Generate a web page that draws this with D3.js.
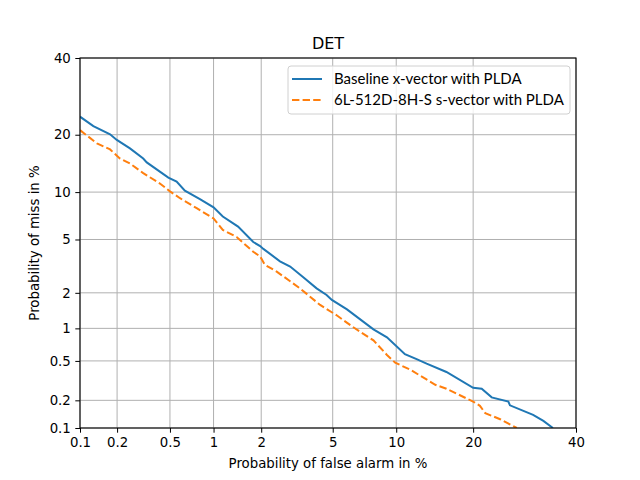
<!DOCTYPE html>
<html>
<head>
<meta charset="utf-8">
<script src="https://cdn.jsdelivr.net/npm/d3@7"></script>
<style>
  body { margin: 0; background: #fff; }
  text { font-family: "DejaVu Sans", sans-serif; fill: #000; }
  .grid line { stroke: #b0b0b0; stroke-width: 1px; }
</style>
</head>
<body>
<div id="chart"></div>
<script>
// tick labels, both axes (percent)
var tickLabels = [0.1, 0.2, 0.5, 1, 2, 5, 10, 20, 40];
var seriesNames = ["Baseline x-vector with PLDA", "6L-512D-8H-S s-vector with PLDA"];

// false alarm % / miss %
var baselineFa = [0.1, 0.129, 0.176, 0.199, 0.252, 0.318, 0.338, 0.487, 0.558, 0.638, 0.81, 1.0, 1.15, 1.44, 1.79, 1.97, 2.06,
  2.58, 2.95, 3.49, 4.12, 4.65, 4.95, 5.9, 7.9, 9.1, 10.9, 12.2, 13.4, 16.0, 20.0, 21.4, 23.1, 26.1, 26.4, 30.9, 33.0, 35.0];
var baselineMiss = [24.1, 21.9, 20.1, 18.9, 17.2, 15.3, 14.6, 12.1, 11.5, 10.2, 9.1, 8.1, 7.1, 6.1, 4.8, 4.5, 4.3,
  3.5, 3.2, 2.65, 2.17, 1.92, 1.75, 1.46, 0.98, 0.83, 0.58, 0.52, 0.47, 0.39, 0.27, 0.264, 0.215, 0.194, 0.177, 0.14, 0.12, 0.1];

var svectorFa = [0.1, 0.138, 0.176, 0.21, 0.252, 0.318, 0.423, 0.5, 0.59, 0.77, 1.0, 1.15, 1.41, 1.79, 1.97, 2.1,
  2.47, 3.35, 4.3, 5.24, 6.3, 7.9, 9.1, 9.9, 11.5, 14.5, 16.0, 20.0, 21.1, 22.0, 24.6, 27.7];
var svectorMiss = [21.0, 18.2, 17.0, 15.3, 14.4, 12.8, 11.2, 10.1, 9.2, 8.0, 6.9, 5.8, 5.2, 4.1, 3.8, 3.3,
  2.93, 2.17, 1.59, 1.30, 1.03, 0.78, 0.57, 0.48, 0.41, 0.29, 0.264, 0.194, 0.175, 0.146, 0.125, 0.1];

// inverse normal cdf (Acklam)
function probit(p) {
  var a = [-39.69683028665376, 220.9460984245205, -275.9285104469687, 138.3577518672690, -30.66479806614716, 2.506628277459239];
  var b = [-54.47609879822406, 161.5858368580409, -155.6989798598866, 66.80131188771972, -13.28068155288572];
  var c = [-0.007784894002430293, -0.3223964580411365, -2.400758277161838, -2.549732539343734, 4.374664141464968, 2.938163982698783];
  var d = [0.007784695709041462, 0.3224671290700398, 2.445134137142996, 3.754408661907416];
  var q, r;
  if (p < 0.02425) {
    q = Math.sqrt(-2 * Math.log(p));
    return (((((c[0]*q+c[1])*q+c[2])*q+c[3])*q+c[4])*q+c[5]) / ((((d[0]*q+d[1])*q+d[2])*q+d[3])*q+1);
  } else if (p <= 0.97575) {
    q = p - 0.5; r = q*q;
    return (((((a[0]*r+a[1])*r+a[2])*r+a[3])*r+a[4])*r+a[5])*q / (((((b[0]*r+b[1])*r+b[2])*r+b[3])*r+b[4])*r+1);
  }
  q = Math.sqrt(-2 * Math.log(1 - p));
  return -(((((c[0]*q+c[1])*q+c[2])*q+c[3])*q+c[4])*q+c[5]) / ((((d[0]*q+d[1])*q+d[2])*q+d[3])*q+1);
}

var W = 640, H = 480;
// plot box ("top" is taken by window.top, so prefix these)
var pLeft = 80, pRight = 576, pTop = 58, pBottom = 428;

var xs = d3.scaleLinear().domain([probit(0.001), probit(0.4)]).range([pLeft, pRight]);
var ys = d3.scaleLinear().domain([probit(0.001), probit(0.4)]).range([pBottom, pTop]);
function x(v) { return xs(probit(v / 100)); }
function y(v) { return ys(probit(v / 100)); }

var svg = d3.select("#chart").append("svg").attr("width", W).attr("height", H);

var tickVals = tickLabels.map(function(t) { return probit(t / 100); });
var fmt = function(d, i) { return String(tickLabels[i]); };

// grid
var grid = svg.append("g").attr("class", "grid");
grid.selectAll(".gx").data(tickVals).enter().append("line")
  .attr("x1", function(d) { return xs(d); }).attr("x2", function(d) { return xs(d); })
  .attr("y1", pTop).attr("y2", pBottom);
grid.selectAll(".gy").data(tickVals).enter().append("line")
  .attr("y1", function(d) { return ys(d); }).attr("y2", function(d) { return ys(d); })
  .attr("x1", pLeft).attr("x2", pRight);

// curves
var line = d3.line().x(function(d) { return x(d[0]); }).y(function(d) { return y(d[1]); });
svg.append("clipPath").attr("id", "clip").append("rect")
  .attr("x", pLeft).attr("y", pTop).attr("width", pRight - pLeft).attr("height", pBottom - pTop);

svg.append("path").datum(d3.zip(baselineFa, baselineMiss))
  .attr("clip-path", "url(#clip)")
  .attr("d", line).attr("fill", "none").attr("stroke", "#1f77b4").attr("stroke-width", 2);
svg.append("path").datum(d3.zip(svectorFa, svectorMiss))
  .attr("clip-path", "url(#clip)")
  .attr("d", line).attr("fill", "none").attr("stroke", "#ff7f0e").attr("stroke-width", 2)
  .attr("stroke-dasharray", "7.4,3.2");

// axes
var xAxis = d3.axisBottom(xs).tickValues(tickVals).tickFormat(fmt).tickSize(4.7).tickSizeOuter(0).tickPadding(4.5);
var yAxis = d3.axisLeft(ys).tickValues(tickVals).tickFormat(fmt).tickSize(4.7).tickSizeOuter(0).tickPadding(4.5);

var gx = svg.append("g").attr("transform", "translate(0," + pBottom + ")").call(xAxis);
var gy = svg.append("g").attr("transform", "translate(" + pLeft + ",0)").call(yAxis);
[gx, gy].forEach(function(g) {
  g.select(".domain").remove();
  g.selectAll("text").style("font-family", "DejaVu Sans").style("font-size", "13.3px").attr("fill", "#000");
  g.selectAll("line").attr("stroke", "#000").attr("stroke-width", 1);
});

// frame
svg.append("rect").attr("x", pLeft).attr("y", pTop).attr("width", pRight - pLeft).attr("height", pBottom - pTop)
  .attr("fill", "none").attr("stroke", "#000").attr("stroke-width", 1.1);

// titles
svg.append("text").attr("x", (pLeft + pRight) / 2).attr("y", 49).attr("text-anchor", "middle")
  .style("font-size", "16px").text("DET");
svg.append("text").attr("x", (pLeft + pRight) / 2).attr("y", 468).attr("text-anchor", "middle")
  .style("font-size", "13.3px").text("Probability of false alarm in %");
svg.append("text").attr("transform", "translate(39," + ((pTop + pBottom) / 2) + ") rotate(-90)")
  .attr("text-anchor", "middle").style("font-size", "13.3px").text("Probability of miss in %");

// legend
var lg = svg.append("g").attr("transform", "translate(288,66)");
lg.append("rect").attr("width", 282).attr("height", 48).attr("rx", 3)
  .attr("fill", "#fff").attr("fill-opacity", 0.8).attr("stroke", "#d0d0d0");
var colors = ["#1f77b4", "#ff7f0e"];
var dashes = [null, "7.4,3.2"];
seriesNames.forEach(function(name, i) {
  var yy = 13 + i * 21;
  lg.append("line").attr("x1", 4).attr("x2", 34).attr("y1", yy).attr("y2", yy)
    .attr("stroke", colors[i]).attr("stroke-width", 2).attr("stroke-dasharray", dashes[i]);
  lg.append("text").attr("x", 46).attr("y", yy + 5).style("font-family", "Lato, sans-serif")
    .style("font-size", "15px").text(name);
});
</script>
</body>
</html>
